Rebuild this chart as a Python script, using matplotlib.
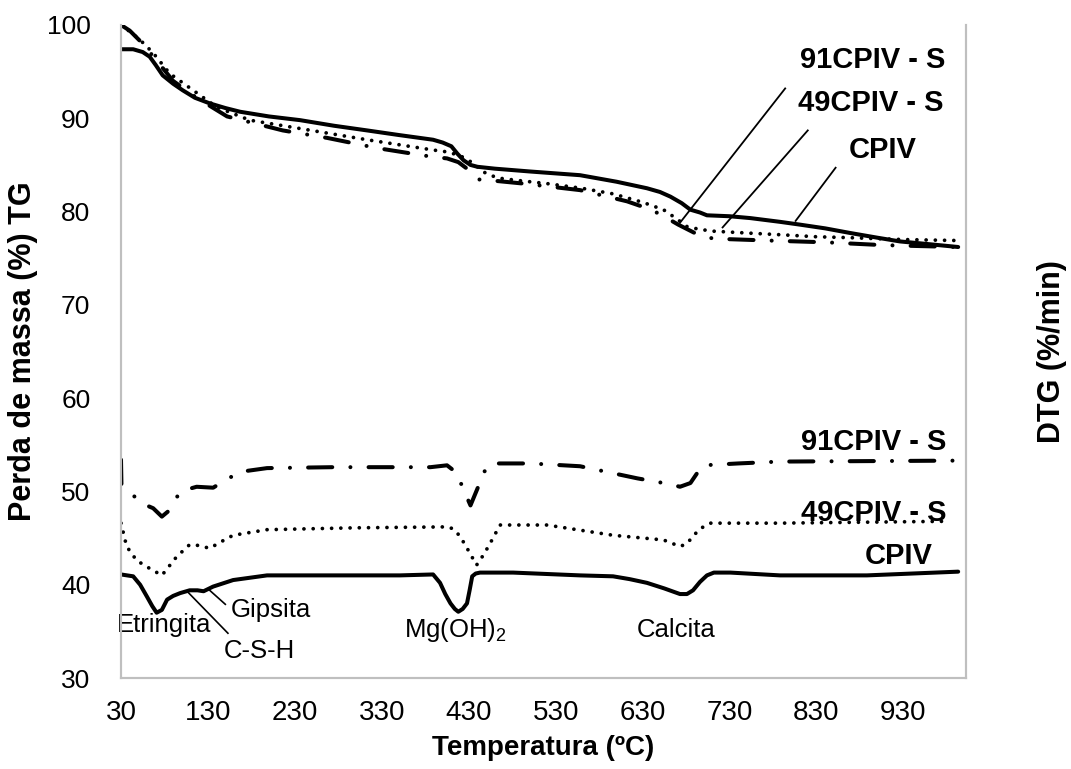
import matplotlib
matplotlib.use("Agg")
import matplotlib.pyplot as plt

plt.rcParams['font.family'] = ['Liberation Sans', 'DejaVu Sans']
plt.rcParams['mathtext.fontset'] = 'custom'
plt.rcParams['mathtext.rm'] = 'Liberation Sans'
plt.rcParams['mathtext.default'] = 'regular'

# TG curves (mass, %)
tg_cpiv_x = [30, 44, 55, 63, 70, 78, 90, 101, 115, 132, 150, 167, 200, 236, 275, 313, 350, 389, 400,
             410, 417, 424, 432, 440, 460, 500, 558, 600, 635, 650, 662, 675, 685, 696, 704, 730, 754,
             788, 811, 840, 869, 900, 926, 960, 993]
tg_cpiv_y = [97.4, 97.4, 97.1, 96.6, 95.7, 94.6, 93.7, 93.0, 92.2, 91.6, 91.1, 90.7, 90.2, 89.8, 89.2,
             88.7, 88.2, 87.7, 87.4, 87.0, 86.2, 85.5, 85.0, 84.8, 84.6, 84.3, 83.9, 83.2, 82.5, 82.1,
             81.6, 80.9, 80.2, 79.9, 79.6, 79.5, 79.3, 78.9, 78.6, 78.2, 77.7, 77.2, 76.8, 76.5, 76.2]

tg_49_x = [30, 40, 52, 67, 86, 113, 140, 178, 236, 313, 389, 405, 420, 435, 448, 463, 490, 520, 560,
           596, 630, 654, 668, 681, 695, 711, 750, 792, 830, 869, 930, 990]
tg_49_y = [100, 99.3, 98.4, 97.0, 94.8, 93.0, 91.2, 89.8, 88.9, 87.7, 86.6, 86.4, 86.0, 85.2, 84.2,
           83.6, 83.3, 83.0, 82.5, 81.9, 81.0, 80.2, 79.3, 78.4, 78.1, 77.9, 77.7, 77.5, 77.3, 77.2,
           77.0, 76.9]

tg_91_x = [30, 40, 55, 70, 90, 117, 152, 216, 267, 325, 386, 405, 418, 428, 436, 443, 460, 493, 558,
           612, 640, 658, 671, 690, 711, 773, 842, 907, 950, 992]
tg_91_y = [100, 99.4, 98.0, 96.3, 94.0, 92.2, 90.2, 88.7, 87.9, 86.8, 85.9, 85.7, 85.3, 84.6, 83.8,
           83.4, 83.3, 83.0, 82.3, 81.1, 80.2, 79.3, 78.6, 77.7, 77.1, 76.9, 76.7, 76.4, 76.3, 76.2]

# DTG curves (shifted for display, secondary axis)
dtg_cpiv_x = [30, 44, 52, 60, 66, 71, 77, 83, 90, 98, 109, 118, 125, 136, 159, 198, 260, 351, 389,
              397, 403, 409, 414, 418, 423, 428, 431, 434, 438, 443, 481, 558, 596, 615, 635, 655,
              673, 681, 688, 696, 704, 712, 731, 788, 811, 888, 993]
dtg_cpiv_y = [41.1, 40.9, 40.0, 38.7, 37.7, 37.0, 37.3, 38.4, 38.8, 39.1, 39.4, 39.4, 39.3, 39.8,
              40.5, 41.0, 41.0, 41.0, 41.1, 40.2, 39.0, 38.0, 37.4, 37.1, 37.4, 38.0, 39.4, 40.9,
              41.2, 41.3, 41.3, 41.0, 40.9, 40.6, 40.2, 39.6, 39.0, 39.0, 39.4, 40.3, 41.0, 41.3,
              41.3, 41.0, 41.0, 41.0, 41.4]

dtg_49_x = [30, 36.5, 48, 62, 77, 94, 109, 120, 132, 145, 159, 198, 300, 405, 412, 420, 430, 439,
            447, 455, 466, 520, 596, 654, 673, 681, 688, 696, 708, 788, 981]
dtg_49_y = [46.6, 44.1, 42.6, 41.8, 41.0, 43.0, 44.3, 44.2, 43.9, 44.6, 45.3, 45.9, 46.1, 46.2,
            46.0, 45.2, 43.6, 42.1, 43.2, 44.5, 46.4, 46.4, 45.3, 44.8, 44.1, 44.4, 45.2, 46.0,
            46.6, 46.6, 46.8]

dtg_91_x = [30, 30.5, 35, 52, 67, 77, 86, 98, 117, 136, 150, 167, 198, 274, 386, 405, 416, 424,
            432, 440, 447, 455, 501, 558, 624, 660, 673, 685, 693, 700, 740, 788, 987]
dtg_91_y = [53.4, 50.8, 50.5, 48.8, 48.2, 47.3, 48.0, 50.0, 50.5, 50.4, 51.2, 52.1, 52.5, 52.6,
            52.6, 52.8, 52.0, 50.2, 48.5, 50.3, 52.0, 53.0, 53.0, 52.7, 51.4, 50.8, 50.5, 50.9,
            52.0, 52.8, 53.0, 53.2, 53.3]

x_ticks = list(range(30, 1000, 100))
y_ticks = list(range(30, 101, 10))

fig = plt.figure(figsize=(10.71, 7.69), dpi=100)
ax = fig.add_axes([121 / 1071, 1 - 678 / 769, 845 / 1071, 653 / 769])

solid = dict(color='black', lw=2.9, solid_capstyle='round')
dotted = dict(color='black', lw=2.7, linestyle=(0, (0.01, 2.45)), dash_capstyle='round')
dashdot = dict(color='black', lw=2.9, linestyle=(0, (6, 4.5, 0.01, 4.5)), dash_capstyle='round')

ax.plot(tg_cpiv_x, tg_cpiv_y, **solid)
ax.plot(tg_49_x, tg_49_y, **dotted)
ax.plot(tg_91_x, tg_91_y, **dashdot)

ax2 = ax.twinx()
ax2.plot(dtg_cpiv_x, dtg_cpiv_y, **solid)
ax2.plot(dtg_49_x, dtg_49_y, **dotted)
ax2.plot(dtg_91_x, dtg_91_y, **dashdot)

for a in (ax, ax2):
    a.set_xlim(30, 1002)
    a.set_ylim(30, 100)
    for s in a.spines.values():
        s.set_color('#bfbfbf')
        s.set_linewidth(1.5)
    a.spines['top'].set_visible(False)
ax2.set_yticks([])

ax.set_xticks(x_ticks)
ax.set_yticks(y_ticks)
ax.tick_params(length=0)
ax.tick_params(axis='y', labelsize=19, pad=22)
ax.tick_params(axis='x', labelsize=20, pad=16)

ax.set_xlabel('Temperatura (ºC)', fontsize=20, fontweight='bold', labelpad=6)
ax.set_ylabel('Perda de massa (%) TG', fontsize=22, fontweight='bold')
ax.yaxis.set_label_coords(-0.098, 0.5)
fig.text(1052 / 1071, 1 - 352 / 769, 'DTG (%/min)', rotation=90, fontsize=22,
         fontweight='bold', ha='center', va='center')

# series labels with leader lines on the TG curves
lbl = dict(fontsize=21, fontweight='bold', ha='right', va='center')
ax.text(978, 96.2, '91CPIV - S', **lbl)
ax.text(976, 91.6, '49CPIV - S', **lbl)
ax.text(906, 86.6, 'CPIV', fontsize=21, fontweight='bold', ha='center', va='center')
ax.plot([673, 794], [78.8, 93.2], color='black', lw=1.3)
ax.plot([722, 820], [78.3, 88.7], color='black', lw=1.3)
ax.plot([806, 852], [79.0, 84.7], color='black', lw=1.3)

# series labels on the DTG curves
ax.text(980, 55.3, '91CPIV - S', **lbl)
ax.text(980, 47.7, '49CPIV - S', **lbl)
ax.text(924, 43.1, 'CPIV', fontsize=21, fontweight='bold', ha='center', va='center')

# peak assignments
ann = dict(fontsize=18.5, ha='center', va='center')
ax.text(79.5, 35.7, 'Etringita', **ann)
ax.text(189, 32.9, 'C-S-H', **ann)
ax.text(202, 37.3, 'Gipsita', **ann)
ax.text(415, 35.1, 'Mg(OH)$_2$', **ann)
ax.text(669, 35.1, 'Calcita', **ann)
ax.plot([107, 153], [39.2, 34.8], color='black', lw=1.2)
ax.plot([132, 150], [39.4, 37.9], color='black', lw=1.2)

fig.savefig('out.png', dpi=100)
